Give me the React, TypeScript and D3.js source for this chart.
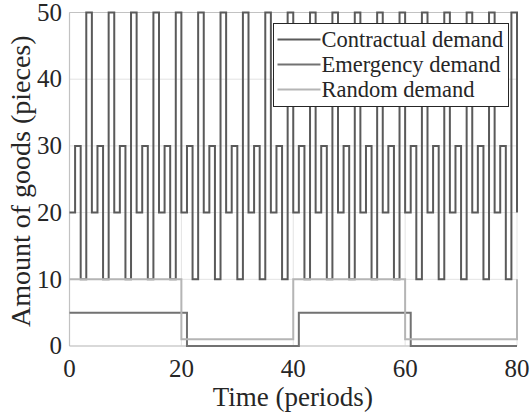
import React from 'react';
import * as d3 from 'd3';

// Data
const contractualDemand = [
  20, 30, 10, 50, 20, 30, 10, 50, 20, 30, 10, 50, 20, 30, 10, 50,
  20, 30, 10, 50, 20, 30, 10, 50, 20, 30, 10, 50, 20, 30, 10, 50,
  20, 30, 10, 50, 20, 30, 10, 50, 20, 30, 10, 50, 20, 30, 10, 50,
  20, 30, 10, 50, 20, 30, 10, 50, 20, 30, 10, 50, 20, 30, 10, 50,
  20, 30, 10, 50, 20, 30, 10, 50, 20, 30, 10, 50, 20, 30, 10, 50,
  20,
];
const emergencyTimes = [0, 21, 41, 61, 80];
const emergencyDemand = [5, 0, 5, 0, 0];
const randomTimes = [0, 20, 40, 60, 80];
const randomDemand = [10, 1, 10, 1, 10];

const xTicks = [0, 20, 40, 60, 80];
const yTicks = [0, 10, 20, 30, 40, 50];
const legendLabels = ['Contractual demand', 'Emergency demand', 'Random demand'];
const seriesColors = ['#5a5a5a', '#727272', '#b5b5b5'];

const W = 530;
const H = 417;
const FONT = 'Liberation Serif, Tinos, Times New Roman, DejaVu Serif, serif';

export default function App() {
  const x = d3.scaleLinear().domain([0, 80]).range([69.5, 517]);
  const y = d3.scaleLinear().domain([0, 50]).range([346, 12.5]);

  const line = d3
    .line<[number, number]>()
    .x(d => x(d[0]))
    .y(d => y(d[1]))
    .curve(d3.curveStepAfter);

  const series: [number, number][][] = [
    contractualDemand.map((v, i) => [i, v] as [number, number]),
    emergencyTimes.map((t, i) => [t, emergencyDemand[i]] as [number, number]),
    randomTimes.map((t, i) => [t, randomDemand[i]] as [number, number]),
  ];

  // legend box
  const lg = { x: 273.5, y: 23.5, w: 235, h: 83 };
  const txt = { fontFamily: FONT, fill: '#262626' };

  return (
    <svg width={W} height={H} style={{ position: 'absolute', left: 0, top: 0, background: '#fff' }}>
      {/* grid */}
      <g stroke="#e3e3e3" strokeWidth={1}>
        {yTicks.map(t => (
          <line key={'gy' + t} x1={x(0)} x2={x(80)} y1={y(t)} y2={y(t)} />
        ))}
        {xTicks.map(t => (
          <line key={'gx' + t} x1={x(t)} x2={x(t)} y1={y(0)} y2={y(50)} />
        ))}
      </g>
      {/* axes */}
      <g stroke="#c2c2c2" strokeWidth={1.2}>
        <line x1={x(0)} x2={x(80)} y1={y(0)} y2={y(0)} />
        <line x1={x(0)} x2={x(0)} y1={y(0)} y2={y(50)} />
        <line x1={x(0)} x2={x(80)} y1={y(50)} y2={y(50)} />
      </g>

      {/* series */}
      {series.map((s, i) => (
        <path key={i} d={line(s) || ''} fill="none" stroke={seriesColors[i]} strokeWidth={2} />
      ))}

      {/* tick labels */}
      <g style={{ ...txt, fontSize: 25 }}>
        {yTicks.map(t => (
          <text key={'ty' + t} x={62} y={y(t)} dy="0.33em" textAnchor="end">{t}</text>
        ))}
        {xTicks.map(t => (
          <text key={'tx' + t} x={x(t)} y={377} textAnchor="middle">{t}</text>
        ))}
      </g>

      {/* axis labels */}
      <text x={(x(0) + x(80)) / 2 - 0.5} y={406} textAnchor="middle" style={{ ...txt, fontSize: 27 }}>
        Time (periods)
      </text>
      <text
        transform={`translate(30,${(y(0) + y(50)) / 2 + 2}) rotate(-90)`}
        textAnchor="middle"
        style={{ ...txt, fontSize: 28 }}
      >
        Amount of goods (pieces)
      </text>

      {/* legend */}
      <rect x={lg.x} y={lg.y} width={lg.w} height={lg.h} fill="#fff" stroke="#262626" strokeWidth={1} />
      {legendLabels.map((label, i) => {
        const cy = lg.y + 16 + i * 25;
        return (
          <g key={label}>
            <line x1={lg.x + 4} x2={lg.x + 47} y1={cy} y2={cy} stroke={seriesColors[i]} strokeWidth={2} />
            <text x={lg.x + 48} y={cy} dy="0.33em" style={{ ...txt, fontSize: 22.5 }}>
              {label}
            </text>
          </g>
        );
      })}
    </svg>
  );
}
